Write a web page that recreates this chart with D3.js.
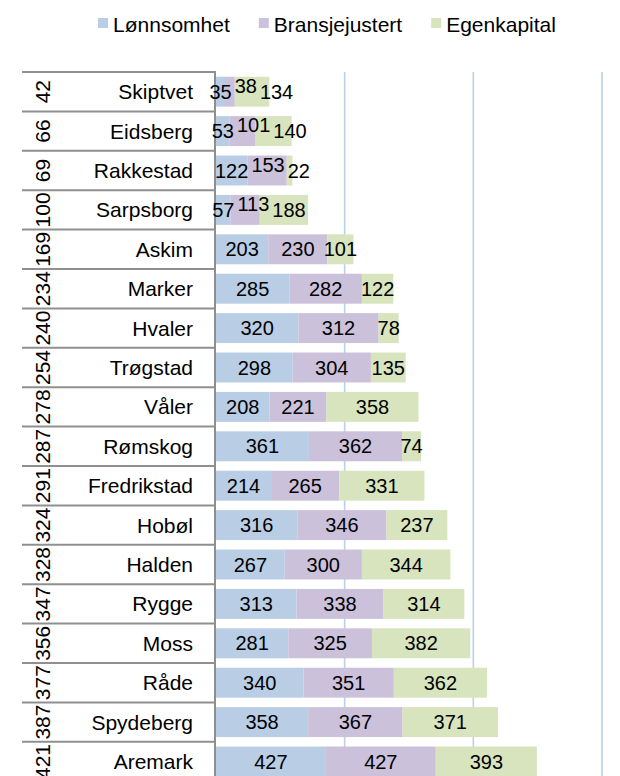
<!DOCTYPE html>
<html>
<head>
<meta charset="utf-8">
<script src="https://cdn.jsdelivr.net/npm/d3@7"></script>
<style>
  body { margin: 0; background: #fff; }
  svg { display: block; font-family: "Liberation Sans", Arial, sans-serif; }
</style>
</head>
<body>
<div id="chart"></div>
<script>
// DATA
const names = ["Skiptvet", "Eidsberg", "Rakkestad", "Sarpsborg", "Askim", "Marker", "Hvaler", "Trøgstad", "Våler",
  "Rømskog", "Fredrikstad", "Hobøl", "Halden", "Rygge", "Moss", "Råde", "Spydeberg", "Aremark"];
const ranks = [42, 66, 69, 100, 169, 234, 240, 254, 278, 287, 291, 324, 328, 347, 356, 377, 387, 421];
const lonnsomhet = [35, 53, 122, 57, 203, 285, 320, 298, 208, 361, 214, 316, 267, 313, 281, 340, 358, 427];
const bransjejustert = [38, 101, 153, 113, 230, 282, 312, 304, 221, 362, 265, 346, 300, 338, 325, 351, 367, 427];
const egenkapital = [134, 140, 22, 188, 101, 122, 78, 135, 358, 74, 331, 237, 344, 314, 382, 362, 371, 393];
const seriesNames = ["Lønnsomhet", "Bransjejustert", "Egenkapital"];
const colors = ["#b9cde5", "#ccc1da", "#d7e4bd"];
const gridTicks = [500, 1000, 1500];

const width = 620, height = 776;
const topY = 72, rowH = 39.4;

const svg = d3.select("#chart").append("svg")
  .attr("width", width)
  .attr("height", height);

const rows = names.map((n, i) => ({
  name: n, rank: ranks[i],
  vals: [lonnsomhet[i], bransjejustert[i], egenkapital[i]]
}));

const stack = d3.stack().keys([0, 1, 2]).value((d, k) => d.vals[k]);
const stacked = stack(rows);

//SCALES
const x = d3.scaleLinear().domain([0, 1500]).range([216, 602]);
const y = d3.scaleBand()
  .domain(names)
  .range([topY, topY + rowH * names.length])
  .paddingInner(0.24)
  .paddingOuter(0.12);

// gridlines
svg.append("g").selectAll("line")
  .data(gridTicks)
  .enter().append("line")
  .attr("x1", d => x(d)).attr("x2", d => x(d))
  .attr("y1", topY).attr("y2", height)
  .attr("stroke", "#bcd0ea")
  .attr("stroke-width", 1.6);

// bars
svg.append("g").selectAll("g")
  .data(stacked)
  .enter().append("g")
  .attr("fill", (d, i) => colors[i])
  .selectAll("rect")
  .data(d => d)
  .enter().append("rect")
  .attr("x", d => x(d[0]))
  .attr("width", d => x(d[1]) - x(d[0]))
  .attr("y", d => y(d.data.name))
  .attr("height", y.bandwidth());

// table lines
const tbl = svg.append("g");
d3.range(names.length + 1).forEach(k => {
  tbl.append("line")
    .attr("x1", 22).attr("x2", 215)
    .attr("y1", topY + k * rowH).attr("y2", topY + k * rowH)
    .attr("stroke", "#8f8f8f")
    .attr("stroke-width", 2);
});
tbl.append("line")
  .attr("x1", 215).attr("x2", 215)
  .attr("y1", topY - 1).attr("y2", height)
  .attr("stroke", "#8f8f8f")
  .attr("stroke-width", 2);

// names and ranks
const labels = svg.append("g");
rows.forEach(r => {
  const cy = y(r.name) + y.bandwidth() / 2;
  labels.append("text")
    .attr("x", 193).attr("y", cy + 7.5)
    .attr("text-anchor", "end")
    .attr("font-size", 21)
    .text(r.name);
  labels.append("text")
    .attr("transform", `translate(${49.5},${cy}) rotate(-90)`)
    .attr("text-anchor", "middle")
    .attr("font-size", 21)
    .text(r.rank);
});

// data labels, pushed apart when they crowd each other
const valG = svg.append("g");
const gap = 3;
rows.forEach((r, i) => {
  const cy = y(r.name) + y.bandwidth() / 2;
  let prevRight = -Infinity;
  r.vals.forEach((v, k) => {
    const seg = stacked[k][i];
    const t = valG.append("text")
      .attr("font-size", 20)
      .attr("text-anchor", "middle")
      .text(v);
    const w = t.node().getComputedTextLength();
    let cx = (x(seg[0]) + x(seg[1])) / 2;
    let dy = 7;
    if (cx - w / 2 < prevRight + gap) {
      cx = prevRight + gap + w / 2;
      if (k == 1) dy = 1;
    }
    if (k == 0 && cx - w / 2 < 208) cx = 208 + w / 2;
    t.attr("x", cx).attr("y", cy + dy);
    prevRight = cx + w / 2;
  });
});

// legend
const legend = svg.append("g");
let lx = 0;
seriesNames.forEach((s, i) => {
  const it = legend.append("g").attr("transform", `translate(${lx},0)`);
  it.append("rect")
    .attr("x", 0).attr("y", 18)
    .attr("width", 10).attr("height", 10)
    .attr("fill", colors[i]);
  const t = it.append("text")
    .attr("x", 15).attr("y", 31.5)
    .attr("font-size", 21)
    .text(s);
  lx += 15 + t.node().getComputedTextLength() + 29;
});
const lw = lx - 29;
legend.attr("transform", `translate(${327 - lw / 2},0)`);
</script>
</body>
</html>
